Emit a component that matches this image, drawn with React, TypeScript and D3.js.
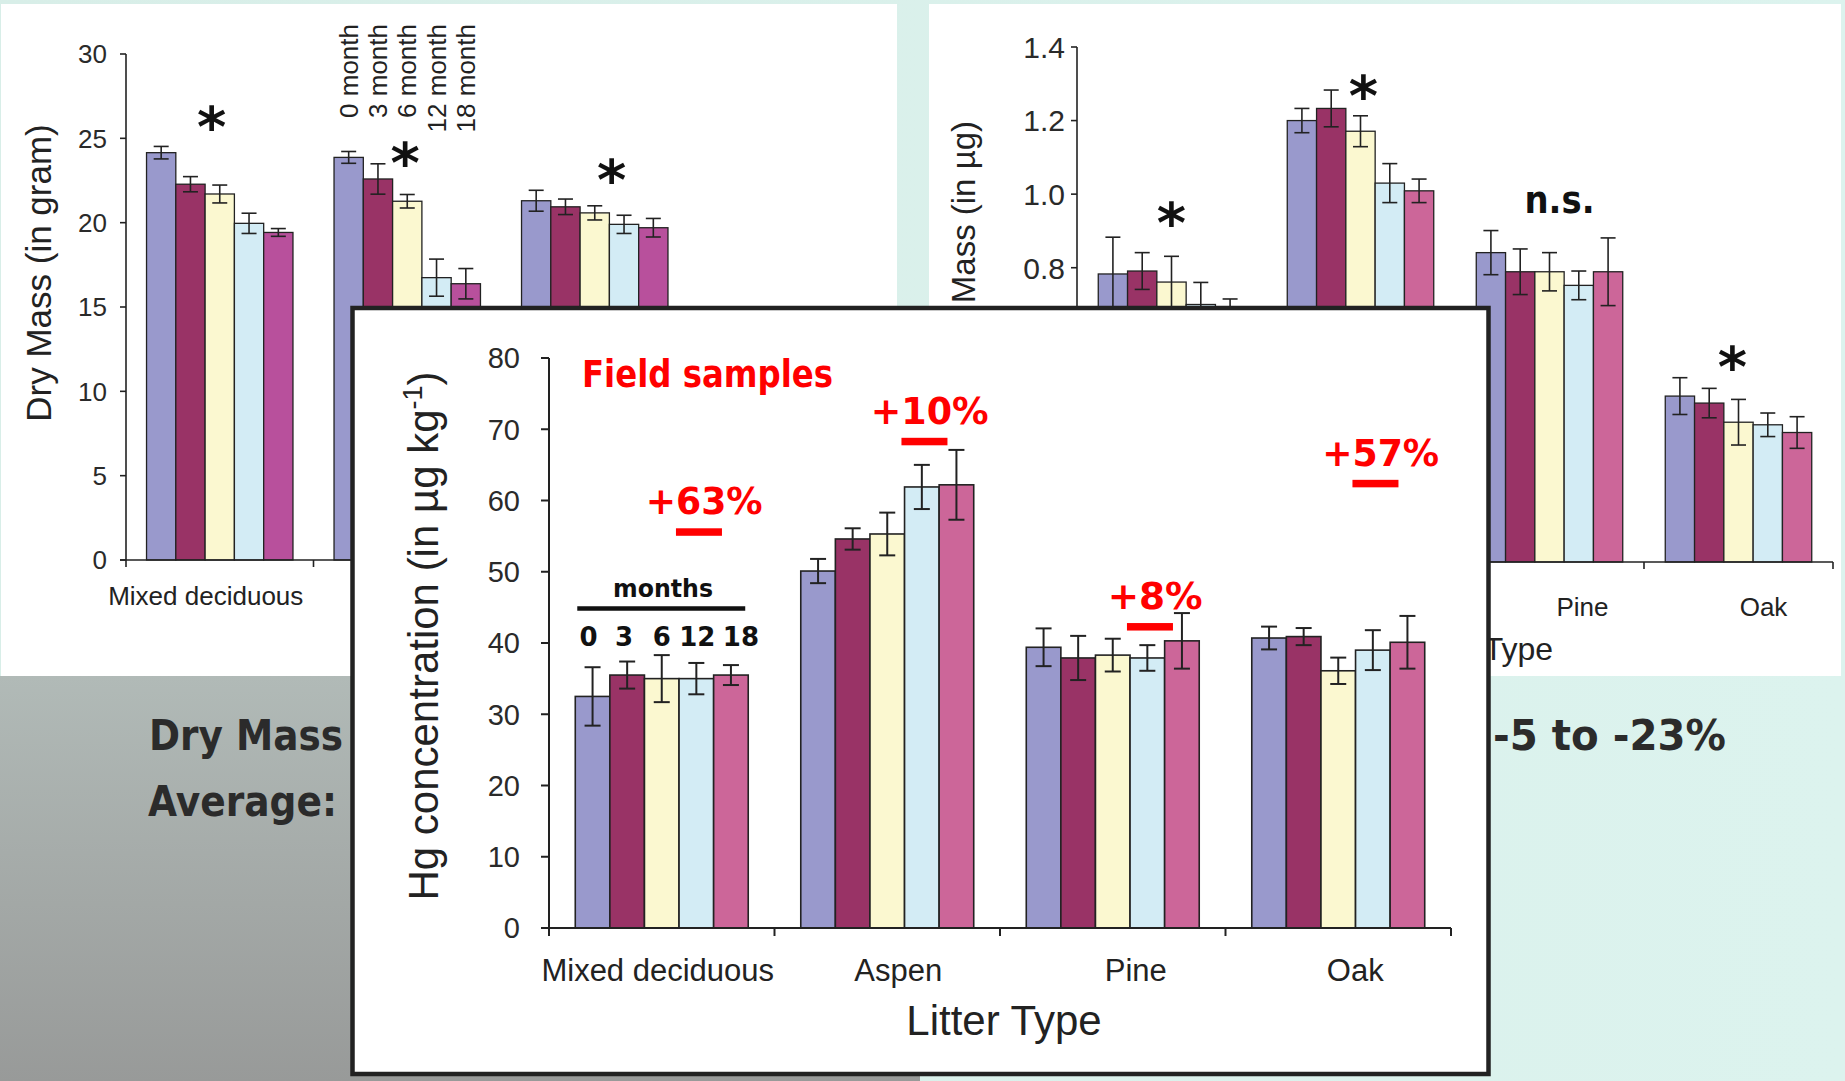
import React from "react";
import * as d3 from "d3";

// ---------- data ----------
const CATEGORIES = ["Mixed deciduous", "Aspen", "Pine", "Oak"];
const SERIES = ["0 month", "3 month", "6 month", "12 month", "18 month"];
const MONTH_LABELS = ["0", "3", "6", "12", "18"];
const COLORS = ["#9999cc", "#993366", "#fbf8d0", "#d3ecf5", "#cc6699"];
const LEFT_COLORS = ["#9999cc", "#993366", "#fbf8d0", "#d3ecf5", "#b8509c"];

// Dry mass (g) – left panel (4th group hidden by inset)
const DRY_MIXED = [24.15, 22.28, 21.7, 19.96, 19.42];
const DRY_MIXED_ERR = [0.37, 0.45, 0.53, 0.6, 0.23];
const DRY_ASPEN = [23.87, 22.59, 21.27, 16.74, 16.38];
const DRY_ASPEN_ERR = [0.35, 0.9, 0.4, 1.1, 0.9];
const DRY_PINE = [21.3, 20.94, 20.58, 19.9, 19.7];
const DRY_PINE_ERR = [0.62, 0.46, 0.42, 0.54, 0.55];
const DRY_TICKS = [0, 5, 10, 15, 20, 25, 30];

// Hg mass (µg) – right panel
const HGM_MIXED = [0.783, 0.791, 0.761, 0.7, 0.685];
const HGM_MIXED_ERR = [0.1, 0.05, 0.07, 0.06, 0.03];
const HGM_ASPEN = [1.2, 1.233, 1.171, 1.03, 1.009];
const HGM_ASPEN_ERR = [0.033, 0.05, 0.042, 0.053, 0.032];
const HGM_PINE = [0.841, 0.789, 0.789, 0.752, 0.789];
const HGM_PINE_ERR = [0.06, 0.062, 0.052, 0.039, 0.092];
const HGM_OAK = [0.451, 0.432, 0.38, 0.373, 0.352];
const HGM_OAK_ERR = [0.05, 0.04, 0.062, 0.032, 0.043];
const HGM_TICKS = [0, 0.2, 0.4, 0.6, 0.8, 1.0, 1.2, 1.4];

// Hg concentration (µg/kg) – inset
const HGC_MIXED = [32.5, 35.5, 35.0, 35.0, 35.5];
const HGC_MIXED_ERR = [4.1, 1.9, 3.3, 2.2, 1.4];
const HGC_ASPEN = [50.1, 54.6, 55.3, 61.9, 62.2];
const HGC_ASPEN_ERR = [1.7, 1.5, 3.0, 3.1, 4.9];
const HGC_PINE = [39.4, 37.9, 38.3, 37.9, 40.3];
const HGC_PINE_ERR = [2.65, 3.1, 2.3, 1.8, 3.9];
const HGC_OAK = [40.7, 40.9, 36.1, 39.0, 40.1];
const HGC_OAK_ERR = [1.6, 1.2, 1.85, 2.8, 3.7];
const HGC_TICKS = [0, 10, 20, 30, 40, 50, 60, 70, 80];

// annotations
const PCT_LABELS = ["+63%", "+10%", "+8%", "+57%"];
const PCT_LEVELS = [56.1, 68.8, 42.8, 62.9];
const PCT_WIDTHS = [117, 118, 95, 117];
const LEFT_STARS = [
  { cat: "Mixed deciduous", v: 26.3, dx: -8 },
  { cat: "Aspen", v: 24.2, dx: -2 },
  { cat: "Pine", v: 23.2, dx: 17 },
];
const RIGHT_STARS = [
  { cat: "Mixed deciduous", v: 0.951, dx: 0 },
  { cat: "Aspen", v: 1.296, dx: 3 },
  { cat: "Oak", v: 0.56, dx: -6 },
];
const RIGHT_VISIBLE_LABELS = ["Pine", "Oak"];

const SANS = "'Liberation Sans', Arial, sans-serif";
const BOLD = "'DejaVu Sans', Verdana, sans-serif";
const INK = "#222";

type BarsProps = {
  x: d3.ScaleBand<string>;
  y: d3.ScaleLinear<number, number>;
  values: (number[] | null)[];
  errs: (number[] | null)[];
  colors: string[];
  inner: number;
  sw: number;
  ew: number;
  cap: number;
};

function Bars({ x, y, values, errs, colors, inner, sw, ew, cap }: BarsProps) {
  const bw = x.bandwidth();
  const gw = bw * inner;
  const x1 = d3.scaleBand<string>().domain(SERIES).range([0, gw]);
  return (
    <g>
      {CATEGORIES.map((c, ci) => {
        const vals = values[ci];
        const es = errs[ci];
        if (!vals || !es) return null;
        const gx = (x(c) as number) + (bw - gw) / 2;
        return (
          <g key={c} transform={`translate(${gx},0)`}>
            {vals.map((v, i) => {
              const bx = x1(SERIES[i]) as number;
              const w = x1.bandwidth();
              const cx = bx + w / 2;
              return (
                <g key={i}>
                  <rect x={bx} y={y(v)} width={w} height={y(0) - y(v)} fill={colors[i]} stroke={INK} strokeWidth={sw} />
                  <g stroke={INK} strokeWidth={ew}>
                    <line x1={cx} x2={cx} y1={y(v + es[i])} y2={y(v - es[i])} />
                    <line x1={cx - cap / 2} x2={cx + cap / 2} y1={y(v + es[i])} y2={y(v + es[i])} />
                    <line x1={cx - cap / 2} x2={cx + cap / 2} y1={y(v - es[i])} y2={y(v - es[i])} />
                  </g>
                </g>
              );
            })}
          </g>
        );
      })}
    </g>
  );
}

type AxesProps = {
  x: d3.ScaleBand<string>;
  y: d3.ScaleLinear<number, number>;
  ticks: number[];
  fmt: (n: number) => string;
  tickLen: number;
  labelX: number;
  fontSize: number;
  sw: number;
  xTickLen: number;
};

function Axes({ x, y, ticks, fmt, tickLen, labelX, fontSize, sw, xTickLen }: AxesProps) {
  const [x0, x1] = x.range();
  const [y0, y1] = y.range();
  const bounds = CATEGORIES.map((c) => x(c) as number).concat([x1]);
  return (
    <g>
      <line x1={x0} x2={x0} y1={y0} y2={y1} stroke={INK} strokeWidth={sw} />
      <line x1={x0 - tickLen} x2={x1} y1={y0} y2={y0} stroke={INK} strokeWidth={sw} />
      {ticks.map((t) => (
        <g key={t}>
          <line x1={x0 - tickLen} x2={x0} y1={y(t)} y2={y(t)} stroke={INK} strokeWidth={sw} />
          <text x={labelX} y={y(t)} dy="0.36em" textAnchor="end" fontFamily={SANS} fontSize={fontSize} fill="#2a2a2a">
            {fmt(t)}
          </text>
        </g>
      ))}
      {bounds.map((b, i) => (
        <line key={i} x1={b} x2={b} y1={y0} y2={y0 + xTickLen} stroke={INK} strokeWidth={sw} />
      ))}
    </g>
  );
}

export default function App() {
  const W = 1845;
  const H = 1081;

  // left panel (dry mass)
  const xL = d3.scaleBand<string>().domain(CATEGORIES).range([126, 876]);
  const yL = d3.scaleLinear().domain([0, 30]).range([560, 54]);
  // right panel (Hg mass)
  const xR = d3.scaleBand<string>().domain(CATEGORIES).range([1077, 1833]);
  const yR = d3.scaleLinear().domain([0, 1.4]).range([562, 47]);
  // inset (Hg concentration)
  const xI = d3.scaleBand<string>().domain(CATEGORIES).range([549, 1451]);
  const yI = d3.scaleLinear().domain([0, 80]).range([928, 358]);

  const innerL = 0.781;
  const bwL = xL.bandwidth();
  const x1L = d3.scaleBand<string>().domain(SERIES).range([0, bwL * innerL]);
  const innerI = 0.767;
  const bwI = xI.bandwidth();
  const x1I = d3.scaleBand<string>().domain(SERIES).range([0, bwI * innerI]);
  const mdStart = (xI("Mixed deciduous") as number) + (bwI - bwI * innerI) / 2;

  const rightLabelDx: Record<string, number> = { Pine: 33, Oak: 25 };
  const insetLabelDx = [-4, 11, 23, 17];
  const monthDx = [-4, -3, 0, 1, 10];

  return (
    <svg width={W} height={H} viewBox={`0 0 ${W} ${H}`} style={{ position: "absolute", left: 0, top: 0 }}>
      <defs>
        <linearGradient id="grayGrad" x1="0" y1="0" x2="0" y2="1">
          <stop offset="0" stopColor="#b1bab7" />
          <stop offset="1" stopColor="#989a99" />
        </linearGradient>
        <linearGradient id="mintGrad" x1="0" y1="0" x2="1" y2="0">
          <stop offset="0" stopColor="#d8eee8" />
          <stop offset="1" stopColor="#dcf3ee" />
        </linearGradient>
      </defs>

      {/* background */}
      <rect x={0} y={0} width={W} height={H} fill="url(#mintGrad)" />
      <rect x={0} y={676} width={920} height={H - 676} fill="url(#grayGrad)" />

      {/* panels */}
      <rect x={1} y={4} width={896} height={672} fill="#fff" />
      <rect x={929} y={4} width={912} height={672} fill="#fff" />

      {/* ---------- left chart: dry mass ---------- */}
      <Bars
        x={xL}
        y={yL}
        values={[DRY_MIXED, DRY_ASPEN, DRY_PINE, null]}
        errs={[DRY_MIXED_ERR, DRY_ASPEN_ERR, DRY_PINE_ERR, null]}
        colors={LEFT_COLORS}
        inner={innerL}
        sw={1.3}
        ew={1.6}
        cap={15}
      />
      <Axes x={xL} y={yL} ticks={DRY_TICKS} fmt={(n) => String(n)} tickLen={6} labelX={107} fontSize={26} sw={1.6} xTickLen={7} />
      <text transform="translate(51,273) rotate(-90)" textAnchor="middle" fontFamily={SANS} fontSize={35} fill={INK}>
        Dry Mass (in gram)
      </text>
      <text x={(xL("Mixed deciduous") as number) + bwL / 2 - 14} y={605} textAnchor="middle" fontFamily={SANS} fontSize={26} fill={INK}>
        Mixed deciduous
      </text>
      {SERIES.map((s, i) => {
        const cx = (xL("Aspen") as number) + (bwL - bwL * innerL) / 2 + (x1L(s) as number) + x1L.bandwidth() / 2;
        return (
          <text key={s} transform={`translate(${cx + 9},24) rotate(-90)`} textAnchor="end" fontFamily={SANS} fontSize={26} fill={INK}>
            {s}
          </text>
        );
      })}
      {LEFT_STARS.map((s) => (
        <text key={s.cat} x={(xL(s.cat) as number) + bwL / 2 + s.dx} y={yL(s.v) + 30} textAnchor="middle" fontFamily={BOLD} fontWeight="bold" fontSize={56} fill="#111">
          *
        </text>
      ))}

      {/* ---------- right chart: Hg mass ---------- */}
      <Bars
        x={xR}
        y={yR}
        values={[HGM_MIXED, HGM_ASPEN, HGM_PINE, HGM_OAK]}
        errs={[HGM_MIXED_ERR, HGM_ASPEN_ERR, HGM_PINE_ERR, HGM_OAK_ERR]}
        colors={COLORS}
        inner={0.775}
        sw={1.3}
        ew={1.6}
        cap={15}
      />
      <Axes x={xR} y={yR} ticks={HGM_TICKS} fmt={d3.format(".1f")} tickLen={6} labelX={1065} fontSize={30} sw={1.6} xTickLen={7} />
      <text transform="translate(975,121) rotate(-90)" textAnchor="end" fontFamily={SANS} fontSize={33} fill={INK}>
        Hg Mass (in µg)
      </text>
      {RIGHT_VISIBLE_LABELS.map((c) => (
        <text key={c} x={(xR(c) as number) + xR.bandwidth() / 2 + rightLabelDx[c]} y={616} textAnchor="middle" fontFamily={SANS} fontSize={26} fill={INK}>
          {c}
        </text>
      ))}
      <text x={1553} y={660} textAnchor="end" fontFamily={SANS} fontSize={32} fill={INK}>
        Litter Type
      </text>
      {RIGHT_STARS.map((s) => (
        <text key={s.cat} x={(xR(s.cat) as number) + xR.bandwidth() / 2 + s.dx} y={yR(s.v) + 30} textAnchor="middle" fontFamily={BOLD} fontWeight="bold" fontSize={56} fill="#111">
          *
        </text>
      ))}
      <text x={(xR("Pine") as number) + xR.bandwidth() / 2 + 10} y={yR(0.98) + 11} textAnchor="middle" fontFamily={BOLD} fontWeight="bold" fontSize={38} textLength={70} lengthAdjust="spacingAndGlyphs" fill="#111">
        n.s.
      </text>

      {/* ---------- bottom text ---------- */}
      <text x={149} y={750} fontFamily={BOLD} fontWeight="bold" fontSize={42} textLength={194} lengthAdjust="spacingAndGlyphs" fill="#2b2b2b">
        Dry Mass
      </text>
      <text x={148} y={816} fontFamily={BOLD} fontWeight="bold" fontSize={42} textLength={189} lengthAdjust="spacingAndGlyphs" fill="#2b2b2b">
        Average:
      </text>
      <text x={1493} y={750} fontFamily={BOLD} fontWeight="bold" fontSize={42} textLength={233} lengthAdjust="spacingAndGlyphs" fill="#2b2b2b">
        -5 to -23%
      </text>

      {/* ---------- inset: Hg concentration ---------- */}
      <rect x={352.5} y={308} width={1136} height={766} fill="#fff" stroke={INK} strokeWidth={4.5} />
      <Bars
        x={xI}
        y={yI}
        values={[HGC_MIXED, HGC_ASPEN, HGC_PINE, HGC_OAK]}
        errs={[HGC_MIXED_ERR, HGC_ASPEN_ERR, HGC_PINE_ERR, HGC_OAK_ERR]}
        colors={COLORS}
        inner={innerI}
        sw={1.6}
        ew={2}
        cap={16}
      />
      <Axes x={xI} y={yI} ticks={HGC_TICKS} fmt={(n) => String(n)} tickLen={8} labelX={520} fontSize={29} sw={2} xTickLen={8} />
      <text transform="translate(438,636) rotate(-90)" textAnchor="middle" fontFamily={SANS} fontSize={42} fill={INK}>
        <tspan>Hg concentration (in µg kg</tspan>
        <tspan dy={-16} fontSize={27}>-1</tspan>
        <tspan dy={16}>)</tspan>
      </text>
      {CATEGORIES.map((c, i) => (
        <text key={c} x={(xI(c) as number) + bwI / 2 + insetLabelDx[i]} y={981} textAnchor="middle" fontFamily={SANS} fontSize={31} fill={INK}>
          {c}
        </text>
      ))}
      <text x={1004} y={1035} textAnchor="middle" fontFamily={SANS} fontSize={42} fill={INK}>
        Litter Type
      </text>

      <text x={582} y={387} fontFamily={BOLD} fontWeight="bold" fontSize={37} textLength={251} lengthAdjust="spacingAndGlyphs" fill="#ff0000">
        Field samples
      </text>
      {CATEGORIES.map((c, i) => {
        const b0 = xI(c) as number;
        const yb = yI(PCT_LEVELS[i]);
        const tc = b0 + bwI * 0.688;
        const bc = b0 + bwI * 0.665;
        return (
          <g key={c}>
            <text x={tc - PCT_WIDTHS[i] / 2} y={yb - 14} fontFamily={BOLD} fontWeight="bold" fontSize={37} textLength={PCT_WIDTHS[i]} lengthAdjust="spacingAndGlyphs" fill="#ff0000">
              {PCT_LABELS[i]}
            </text>
            <rect x={bc - 23} y={yb} width={46} height={7.5} fill="#ff0000" />
          </g>
        );
      })}

      {/* months legend */}
      <text x={663} y={597} textAnchor="middle" fontFamily={BOLD} fontWeight="bold" fontSize={25} textLength={100} lengthAdjust="spacingAndGlyphs" fill="#111">
        months
      </text>
      <line x1={mdStart + 2} x2={mdStart + bwI * innerI - 3} y1={608.5} y2={608.5} stroke="#111" strokeWidth={4.5} />
      {MONTH_LABELS.map((m, i) => (
        <text key={m} x={mdStart + (x1I(SERIES[i]) as number) + x1I.bandwidth() / 2 + monthDx[i]} y={646} textAnchor="middle" fontFamily={BOLD} fontWeight="bold" fontSize={26} fill="#111">
          {m}
        </text>
      ))}
    </svg>
  );
}
